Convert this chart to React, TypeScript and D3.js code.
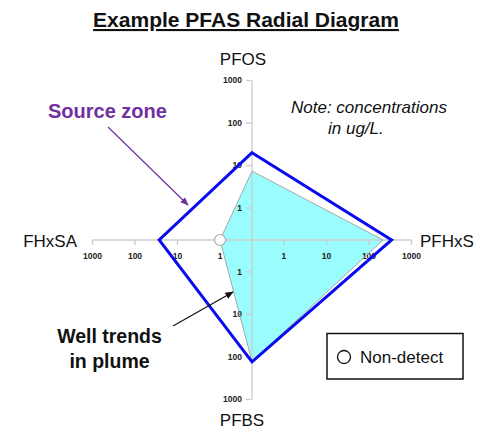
import { scaleLog, lineRadial, curveLinearClosed } from "d3";

const axesNames = ["PFOS", "PFHxS", "PFBS", "FHxSA"];
const sourceZone = [20, 340, 130, 27];
const wellTrends = [7.4, 215, 128, 1];
const wellNonDetect = [false, false, false, true];
const tickValues = [1, 10, 100, 1000];

const WIDTH = 500;
const HEIGHT = 439;
const CX = 252;
const CY = 240;
const R_MAX = 159.5;
const FONT = "'Liberation Sans', Arial, sans-serif";

const r = scaleLog().domain([0.177, 1000]).range([0, R_MAX]);
// angle of each axis: top, right, bottom, left (radians, clockwise from top)
const angle = (i: number) => (i * Math.PI * 2) / axesNames.length;
const pos = (i: number, v: number) => {
  const a = angle(i);
  return [CX + Math.sin(a) * r(v), CY - Math.cos(a) * r(v)];
};

const radial = lineRadial<number>()
  .angle((_, i) => angle(i))
  .radius((v) => r(v))
  .curve(curveLinearClosed);

export default function App() {
  const axisColor = "#cccccc";
  return (
    <svg
      width={WIDTH}
      height={HEIGHT}
      viewBox={`0 0 ${WIDTH} ${HEIGHT}`}
      style={{ position: "absolute", left: 0, top: 0, background: "white" }}
      fontFamily={FONT}
    >
      <defs>
        <marker id="arrPurple" viewBox="0 0 10 10" refX="9" refY="5" markerWidth="7" markerHeight="7" orient="auto">
          <path d="M0,1 L10,5 L0,9 Z" fill="#70309f" />
        </marker>
        <marker id="arrBlack" viewBox="0 0 10 10" refX="9" refY="5" markerWidth="7" markerHeight="7" orient="auto">
          <path d="M0,1 L10,5 L0,9 Z" fill="#111" />
        </marker>
      </defs>

      <text x={246} y={27} textAnchor="middle" fontSize={21} fontWeight="bold" fill="#111" textDecoration="underline">
        Example PFAS Radial Diagram
      </text>

      {/* well trends fill */}
      <path d={radial(wellTrends) ?? ""} transform={`translate(${CX},${CY})`} fill="#99fdfd" stroke="none" />

      {/* axes */}
      {axesNames.map((name, i) => {
        const [x2, y2] = pos(i, 1000);
        const vertical = i % 2 === 0;
        return (
          <g key={name}>
            <line x1={CX} y1={CY} x2={x2} y2={y2} stroke={axisColor} strokeWidth={1.3} />
            {tickValues.map((t) => {
              const [tx, ty] = pos(i, t);
              return vertical ? (
                <g key={t}>
                  <line x1={tx - 6} x2={tx} y1={ty} y2={ty} stroke={axisColor} strokeWidth={1.3} />
                  <text x={tx - 10} y={ty} dy="0.35em" textAnchor="end" fontSize={8.5} fontWeight="bold" fill="#222">
                    {t}
                  </text>
                </g>
              ) : (
                <g key={t}>
                  <line x1={tx} x2={tx} y1={ty} y2={ty + 5} stroke={axisColor} strokeWidth={1.3} />
                  <text x={tx} y={ty + 19} textAnchor="middle" fontSize={8.5} fontWeight="bold" fill="#222">
                    {t}
                  </text>
                </g>
              );
            })}
          </g>
        );
      })}

      {/* well trends outline */}
      <path d={radial(wellTrends) ?? ""} transform={`translate(${CX},${CY})`} fill="none" stroke="#a8a8a8" strokeWidth={1} />

      {/* source zone */}
      <path
        d={radial(sourceZone) ?? ""}
        transform={`translate(${CX},${CY})`}
        fill="none"
        stroke="#0a0af0"
        strokeWidth={3}
        strokeLinejoin="miter"
      />

      {wellTrends.map((v, i) => {
        if (!wellNonDetect[i]) return null;
        const [x, y] = pos(i, v);
        return <circle key={i} cx={x} cy={y} r={5.5} fill="white" stroke="#aaaaaa" strokeWidth={1.2} />;
      })}

      {/* axis names */}
      <text x={243} y={65} textAnchor="middle" fontSize={17} fill="#111">PFOS</text>
      <text x={420} y={247} fontSize={17} fill="#111">PFHxS</text>
      <text x={242} y={426} textAnchor="middle" fontSize={17} fill="#111">PFBS</text>
      <text x={77} y={247} textAnchor="end" fontSize={17} fill="#111">FHxSA</text>

      {/* annotations */}
      <text x={48} y={117.5} fontSize={20} fontWeight="bold" fill="#70309f">Source zone</text>
      <line x1={108} y1={127} x2={188} y2={205} stroke="#70309f" strokeWidth={1.2} markerEnd="url(#arrPurple)" />

      <text fontSize={17} fontStyle="italic" fill="#111">
        <tspan x={291} y={112.5}>Note: concentrations</tspan>
        <tspan x={328} y={133.5}>in ug/L.</tspan>
      </text>

      <text textAnchor="middle" fontSize={19.5} fontWeight="bold" fill="#111">
        <tspan x={109.5} y={342.5}>Well trends</tspan>
        <tspan x={109.5} y={368}>in plume</tspan>
      </text>
      <line x1={173} y1={326} x2={233} y2={292} stroke="#111" strokeWidth={1.2} markerEnd="url(#arrBlack)" />

      {/* legend */}
      <rect x={327} y={333.5} width={136} height={45.5} fill="white" stroke="#111" strokeWidth={1.5} />
      <circle cx={344} cy={357} r={6.5} fill="white" stroke="#111" strokeWidth={1.3} />
      <text x={360} y={363} fontSize={17} fill="#111">Non-detect</text>
    </svg>
  );
}
